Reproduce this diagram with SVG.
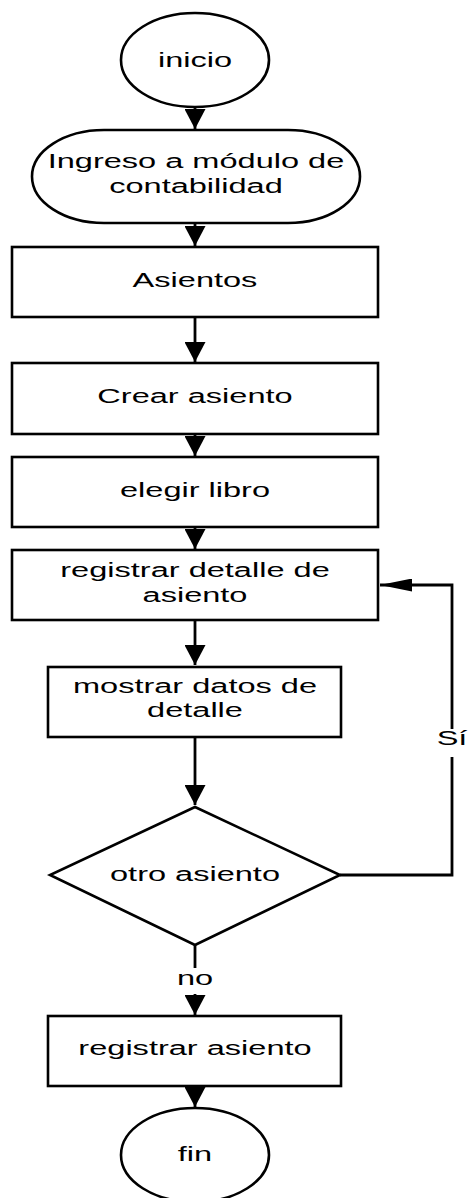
<svg xmlns="http://www.w3.org/2000/svg" width="471" height="1198" viewBox="0 0 471 1198">
<style>
.shape{fill:#fff;stroke:#000;stroke-width:2.6}
.line{fill:none;stroke:#000;stroke-width:2.8}
.t{font-family:"Liberation Sans",Arial,sans-serif;font-size:21px;fill:#000;text-anchor:middle}
.bg{fill:#fff;stroke:none}
</style>
<defs>
<marker id="arrV" markerUnits="userSpaceOnUse" markerWidth="20" markerHeight="21" refX="20" refY="10.5" orient="auto" viewBox="0 0 20 21">
<path d="M0,0 L20,10.5 L0,21 z" fill="#000"/>
</marker>
<marker id="arrH" markerUnits="userSpaceOnUse" markerWidth="32" markerHeight="13" refX="32" refY="6.5" orient="auto" viewBox="0 0 32 13">
<path d="M0,0 L32,6.5 L0,13 z" fill="#000"/>
</marker>
</defs>
<rect width="471" height="1198" fill="#fff"/>
<g id="connectors">
<path class="line" d="M195,107 L195,129" marker-end="url(#arrV)"/>
<path class="line" d="M195,223 L195,246" marker-end="url(#arrV)"/>
<path class="line" d="M195,317 L195,362" marker-end="url(#arrV)"/>
<path class="line" d="M195,434 L195,456" marker-end="url(#arrV)"/>
<path class="line" d="M195,527 L195,549" marker-end="url(#arrV)"/>
<path class="line" d="M195,620 L195,665" marker-end="url(#arrV)"/>
<path class="line" d="M195,737 L195,805" marker-end="url(#arrV)"/>
<path class="line" d="M195,945 L195,1015" marker-end="url(#arrV)"/>
<path class="line" d="M195,1086 L195,1107" marker-end="url(#arrV)"/>
<path class="line" d="M340,875 L452,875 L452,585 L380,585" marker-end="url(#arrH)"/>
<g id="label-no">
<rect class="bg" x="176" y="968" width="38" height="26"/>
<text class="t" transform="translate(195,985) scale(1.55,1)">no</text>
</g>
<g id="label-si">
<rect class="bg" x="435" y="729" width="34" height="28"/>
<text class="t" transform="translate(452,745) scale(1.55,1)">Sí</text>
</g>
</g>
<g id="inicio">
<ellipse class="shape" cx="195" cy="60" rx="74" ry="47"/>
<text class="t" transform="translate(195,67) scale(1.55,1)">inicio</text>
</g>
<g id="ingreso">
<rect class="shape" x="32" y="130" width="328" height="93" rx="72" ry="46.5"/>
<text class="t" transform="translate(196,168) scale(1.55,1)">Ingreso a módulo de</text>
<text class="t" transform="translate(196,193) scale(1.55,1)">contabilidad</text>
</g>
<g id="asientos">
<rect class="shape" x="12" y="247" width="366" height="70"/>
<text class="t" transform="translate(195,287) scale(1.55,1)">Asientos</text>
</g>
<g id="crear">
<rect class="shape" x="12" y="363" width="366" height="71"/>
<text class="t" transform="translate(195,403) scale(1.55,1)">Crear asiento</text>
</g>
<g id="elegir">
<rect class="shape" x="12" y="457" width="366" height="70"/>
<text class="t" transform="translate(195,497) scale(1.55,1)">elegir libro</text>
</g>
<g id="registrar-detalle">
<rect class="shape" x="12" y="550" width="366" height="70"/>
<text class="t" transform="translate(195,577) scale(1.55,1)">registrar detalle de</text>
<text class="t" transform="translate(195,602) scale(1.55,1)">asiento</text>
</g>
<g id="mostrar">
<rect class="shape" x="48" y="667" width="293" height="70"/>
<text class="t" transform="translate(195,693) scale(1.55,1)">mostrar datos de</text>
<text class="t" transform="translate(195,717) scale(1.55,1)">detalle</text>
</g>
<g id="otro">
<path class="shape" d="M195,807 L340,875 L195,945 L50,875 Z"/>
<text class="t" transform="translate(195,881) scale(1.55,1)">otro asiento</text>
</g>
<g id="registrar-asiento">
<rect class="shape" x="48" y="1016" width="293" height="70"/>
<text class="t" transform="translate(195,1055) scale(1.55,1)">registrar asiento</text>
</g>
<g id="fin">
<ellipse class="shape" cx="195" cy="1155" rx="74" ry="47"/>
<text class="t" transform="translate(195,1161) scale(1.55,1)">fin</text>
</g>
</svg>
